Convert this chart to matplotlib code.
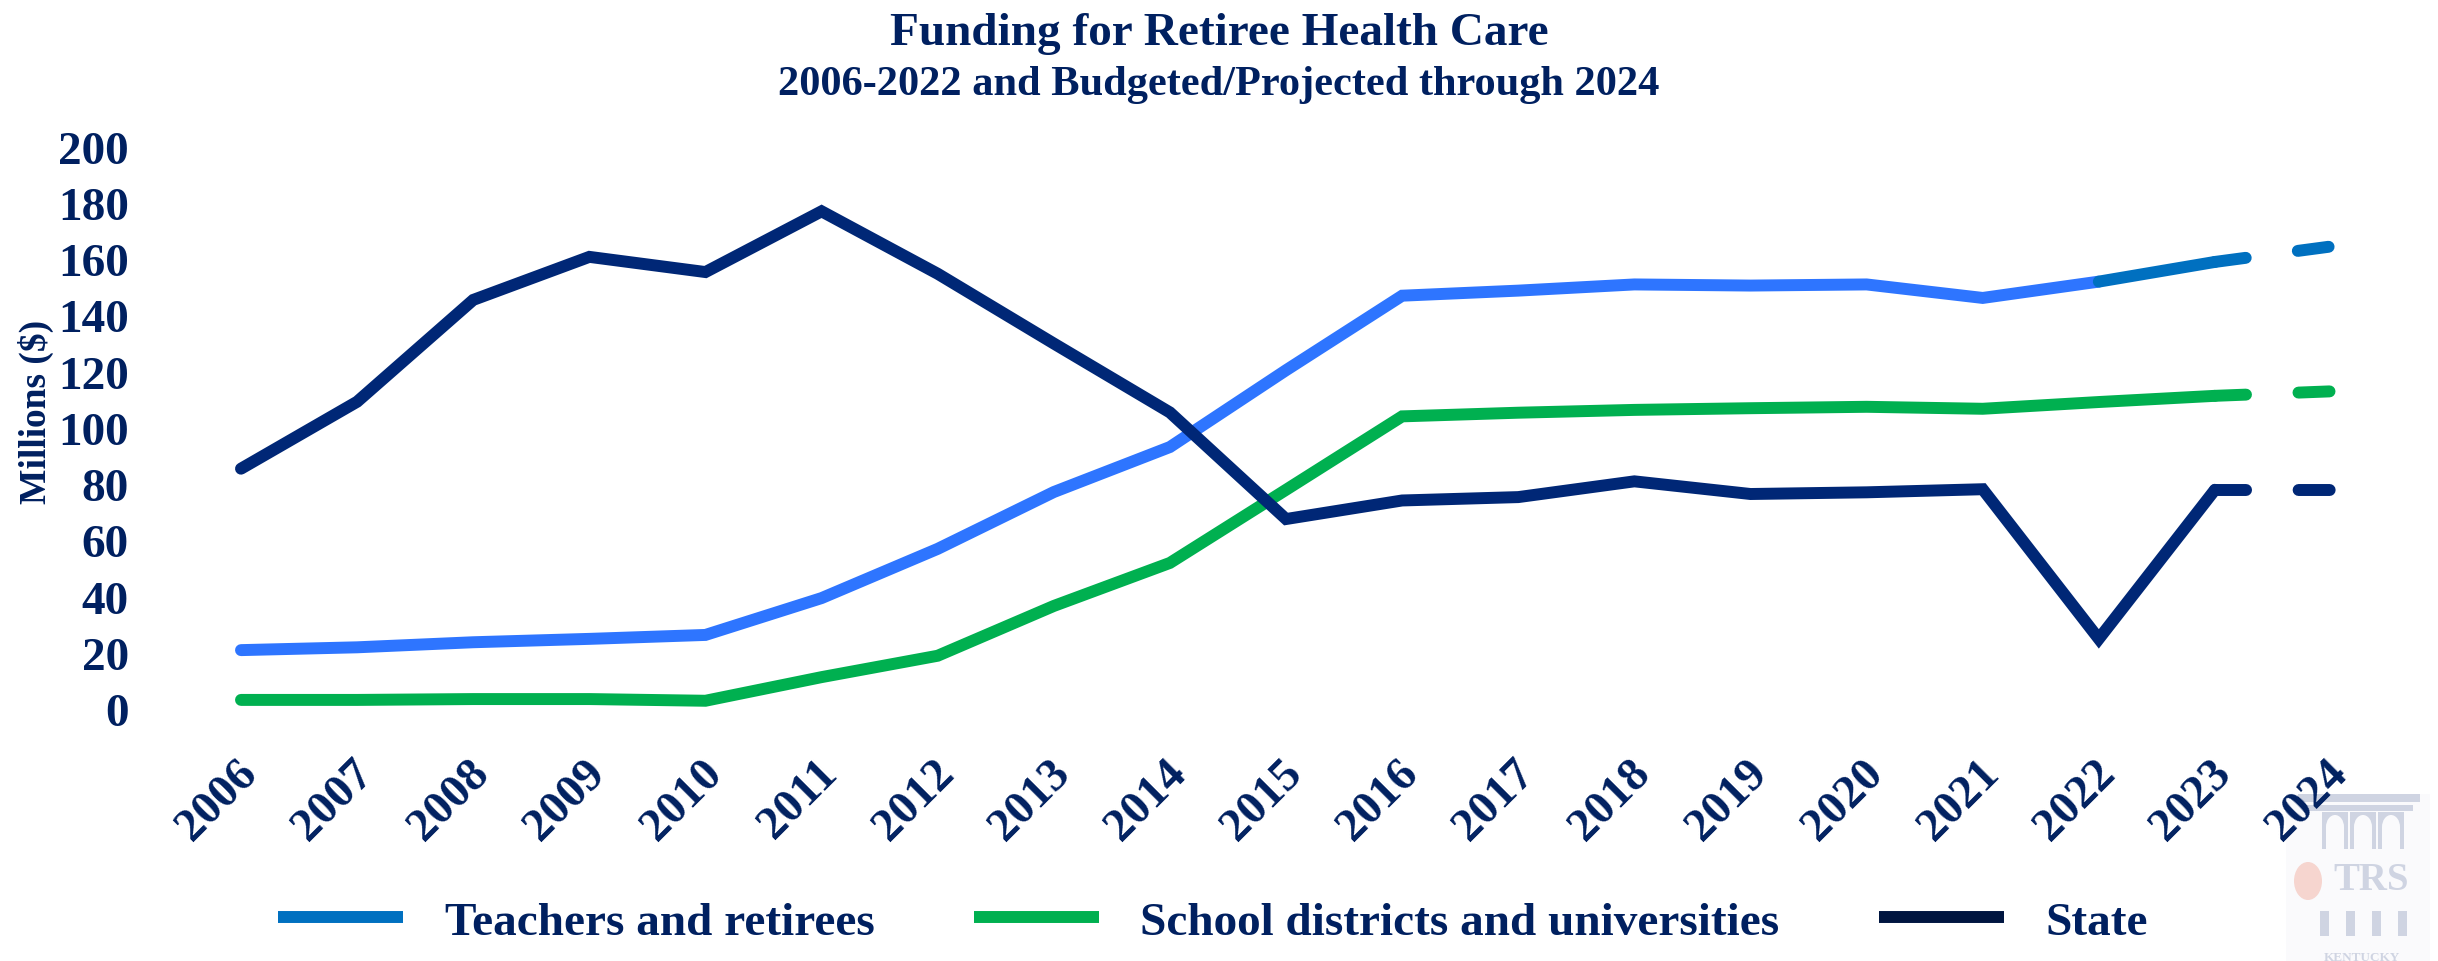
import matplotlib
matplotlib.use("Agg")
import matplotlib.pyplot as plt
import matplotlib.transforms as mtransforms
from matplotlib.lines import Line2D
from matplotlib.patches import Rectangle, Ellipse

years = list(range(2006, 2025))
teachers = [21.0, 22.0, 23.8, 25.0, 26.4, 39.5, 57.0, 77.2, 93.2, 120.5, 147.0, 148.8,
            151.0, 150.6, 151.0, 146.2, 152.0, 159.0, 164.5]
schools = [3.3, 3.3, 3.6, 3.6, 3.0, 11.4, 19.0, 36.7, 52.0, 78.0, 104.1, 105.4,
           106.4, 107.0, 107.5, 106.8, 109.2, 111.4, 113.0]
state = [85.5, 109.3, 145.5, 160.8, 155.4, 177.0, 154.8, 130.0, 105.5, 67.6, 74.2, 75.4,
         81.0, 76.5, 77.1, 78.2, 25.0, 78.0, 78.0]
series_names = ["Teachers and retirees", "School districts and universities", "State"]
yticks = [0, 20, 40, 60, 80, 100, 120, 140, 160, 180, 200]

TXT = "#002060"
C_TEACH = "#2E75FF"
C_TEACH2 = "#0070C0"
C_SCHOOL = "#00B050"
C_STATE = "#002776"
C_STATE_LEG = "#001540"
FONT = ["Liberation Serif", "DejaVu Serif"]

plt.rcParams["font.family"] = FONT
plt.rcParams["font.weight"] = "bold"

W, H = 2438, 962
fig = plt.figure(figsize=(W / 100, H / 100), dpi=100)

# watermark logo (decorative) in pixel coordinates
bg = fig.add_axes([0, 0, 1, 1], zorder=-1)
bg.set_xlim(0, W)
bg.set_ylim(H, 0)
bg.axis("off")
LOGO = "#CFD4E2"
PAPER = "#FAFAFC"
bg.add_patch(Rectangle((2286, 795), 144, 167, color=PAPER, lw=0))
bg.add_patch(Rectangle((2298, 795), 122, 8, color=LOGO, lw=0))
bg.add_patch(Rectangle((2305, 806), 108, 6, color=LOGO, lw=0))
for ax_x in (2322, 2350, 2378):
    bg.add_patch(Rectangle((ax_x, 813), 26, 37, color=LOGO, lw=0))
    bg.add_patch(Ellipse((ax_x + 13, 828), 18, 24, color=PAPER, lw=0))
    bg.add_patch(Rectangle((ax_x + 4, 828), 18, 22, color=PAPER, lw=0))
for px in (2320, 2346, 2372, 2398):
    bg.add_patch(Rectangle((px, 912), 9, 25, color=LOGO, lw=0))
bg.add_patch(Ellipse((2308, 882), 28, 38, color="#F6D5CF", lw=0))
bg.text(2371, 890, "TRS", ha="center", va="baseline", fontsize=28, color=LOGO,
        fontweight="bold")
bg.text(2362, 961, "KENTUCKY", ha="center", va="baseline", fontsize=9.5, color=LOGO,
        fontweight="bold")

ax = fig.add_axes([0.06075, 0.26175, 0.92396, 0.58482])
ax.set_facecolor("none")
ax.set_xlim(2005.2, 2024.6)
ax.set_ylim(0, 200)

LW = 8.6
kw = dict(lw=LW, solid_capstyle="round", solid_joinstyle="miter",
          dash_capstyle="round", clip_on=False)
dash = (0, (2.6, 4.4))

# Teachers and retirees
ax.plot(years[:17], teachers[:17], color=C_TEACH, zorder=3, **kw)
ax.plot(years[16:18], teachers[16:18], color=C_TEACH2, zorder=3, **kw)
ax.plot(years[17:19], teachers[17:19], color=C_TEACH2, ls=dash, zorder=3, **kw)
# School districts and universities
ax.plot(years[:18], schools[:18], color=C_SCHOOL, zorder=2, **kw)
ax.plot(years[17:19], schools[17:19], color=C_SCHOOL, ls=dash, zorder=2, **kw)
# State
ax.plot(years[:18], state[:18], color=C_STATE, zorder=4, **kw)
ax.plot(years[17:19], state[17:19], color=C_STATE, ls=dash, zorder=4, **kw)

for s in ax.spines.values():
    s.set_visible(False)
ax.set_yticks(yticks)
ax.set_yticklabels([str(v) for v in yticks])
ax.set_xticks(years)
ax.set_xticklabels([str(y) for y in years])
ax.tick_params(axis="y", length=0, pad=14, labelsize=34, labelcolor=TXT)
ax.tick_params(axis="x", length=0, pad=41, labelsize=34, labelcolor=TXT)
offset = mtransforms.ScaledTranslation(10 / 100, 0, fig.dpi_scale_trans)
for lab in ax.get_xticklabels():
    lab.set_rotation(45)
    lab.set_ha("right")
    lab.set_va("center")
    lab.set_rotation_mode("anchor")
    lab.set_transform(lab.get_transform() + offset)
for lab in ax.get_xticklabels() + ax.get_yticklabels():
    lab.set_fontweight("bold")

fig.text(36 / W, 1 - 412 / H, "Millions ($)", rotation=90, ha="center", va="center",
         fontsize=27, color=TXT, fontweight="bold")

fig.text(0.5, 1 - 45 / H, "Funding for Retiree Health Care", ha="center",
         va="baseline", fontsize=34, color=TXT, fontweight="bold")
fig.text(0.5, 1 - 95 / H, "2006-2022 and Budgeted/Projected through 2024", ha="center",
         va="baseline", fontsize=30.5, color=TXT, fontweight="bold")

handles = [
    Line2D([], [], color=C_TEACH2, lw=LW, solid_capstyle="butt"),
    Line2D([], [], color=C_SCHOOL, lw=LW, solid_capstyle="butt"),
    Line2D([], [], color=C_STATE_LEG, lw=LW, solid_capstyle="butt"),
]
leg = fig.legend(handles, series_names, loc="center", bbox_to_anchor=(0.4975, 1 - 923 / H),
                 ncol=3, frameon=False, handlelength=2.65, handletextpad=0.88,
                 columnspacing=2.1, borderpad=0, prop=dict(family=FONT, weight="bold", size=34))
for t in leg.get_texts():
    t.set_color(TXT)

fig.savefig("out.png", dpi=100, facecolor="white")
